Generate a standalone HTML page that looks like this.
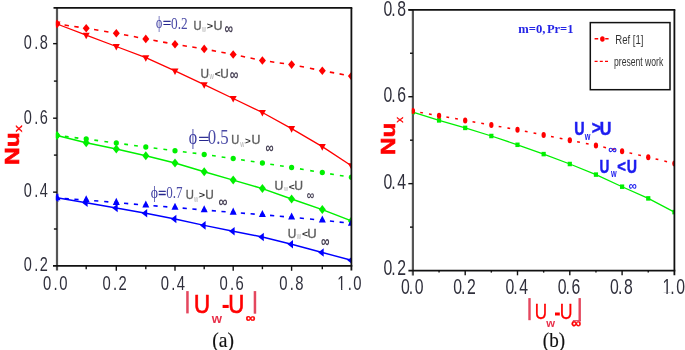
<!DOCTYPE html>
<html><head><meta charset="utf-8"><title>Nu_x vs |Uw-U∞|</title>
<style>
html,body{margin:0;padding:0;background:#fff;}
body{width:685px;height:350px;overflow:hidden;}
svg{display:block;}
text{font-kerning:none;}
</style></head>
<body>
<svg width="685" height="350" viewBox="0 0 685 350">
<rect width="685" height="350" fill="#fff"/>
<defs>
<clipPath id="ca"><rect x="55.9" y="7.9" width="295.5" height="257.90000000000003"/></clipPath>
<clipPath id="cb"><rect x="411.79999999999995" y="9.8" width="262.6" height="260.8"/></clipPath>
</defs>
<line x1="57.0" y1="7.9" x2="57.0" y2="270.6" stroke="#555" stroke-width="2.2"/>
<line x1="412.9" y1="9.8" x2="412.9" y2="275.40000000000003" stroke="#555" stroke-width="2.2"/>
<g clip-path="url(#ca)">
<line x1="57.00" y1="23.90" x2="86.20" y2="28.30" stroke="#ff0000" stroke-width="1.6" stroke-dasharray="4.40 5.44" stroke-dashoffset="2.20"/>
<line x1="86.20" y1="28.30" x2="116.30" y2="33.20" stroke="#ff0000" stroke-width="1.6" stroke-dasharray="4.40 5.77" stroke-dashoffset="2.20"/>
<line x1="116.30" y1="33.20" x2="145.80" y2="38.90" stroke="#ff0000" stroke-width="1.6" stroke-dasharray="4.40 5.62" stroke-dashoffset="2.20"/>
<line x1="145.80" y1="38.90" x2="175.00" y2="44.30" stroke="#ff0000" stroke-width="1.6" stroke-dasharray="4.40 5.50" stroke-dashoffset="2.20"/>
<line x1="175.00" y1="44.30" x2="204.20" y2="48.90" stroke="#ff0000" stroke-width="1.6" stroke-dasharray="4.40 5.45" stroke-dashoffset="2.20"/>
<line x1="204.20" y1="48.90" x2="233.20" y2="54.50" stroke="#ff0000" stroke-width="1.6" stroke-dasharray="4.40 5.45" stroke-dashoffset="2.20"/>
<line x1="233.20" y1="54.50" x2="262.40" y2="60.50" stroke="#ff0000" stroke-width="1.6" stroke-dasharray="4.40 5.54" stroke-dashoffset="2.20"/>
<line x1="262.40" y1="60.50" x2="291.60" y2="64.60" stroke="#ff0000" stroke-width="1.6" stroke-dasharray="4.40 5.43" stroke-dashoffset="2.20"/>
<line x1="291.60" y1="64.60" x2="322.30" y2="70.70" stroke="#ff0000" stroke-width="1.6" stroke-dasharray="4.40 6.03" stroke-dashoffset="2.20"/>
<line x1="322.30" y1="70.70" x2="351.40" y2="76.10" stroke="#ff0000" stroke-width="1.6" stroke-dasharray="4.40 5.47" stroke-dashoffset="2.20"/>
<polyline points="57.00,24.00 86.20,35.20 116.30,46.50 145.80,57.70 175.00,70.90 204.20,84.70 233.20,98.50 262.40,112.50 291.60,128.60 322.30,146.60 351.40,165.70" fill="none" stroke="#ff0000" stroke-width="1.3" stroke-linejoin="round"/>
<line x1="57.00" y1="135.40" x2="86.20" y2="139.10" stroke="#00f000" stroke-width="1.6" stroke-dasharray="3.80 6.01" stroke-dashoffset="1.90"/>
<line x1="86.20" y1="139.10" x2="116.30" y2="143.00" stroke="#00f000" stroke-width="1.6" stroke-dasharray="3.80 6.32" stroke-dashoffset="1.90"/>
<line x1="116.30" y1="143.00" x2="145.80" y2="147.10" stroke="#00f000" stroke-width="1.6" stroke-dasharray="3.80 6.13" stroke-dashoffset="1.90"/>
<line x1="145.80" y1="147.10" x2="175.00" y2="150.70" stroke="#00f000" stroke-width="1.6" stroke-dasharray="3.80 6.01" stroke-dashoffset="1.90"/>
<line x1="175.00" y1="150.70" x2="204.20" y2="154.40" stroke="#00f000" stroke-width="1.6" stroke-dasharray="3.80 6.01" stroke-dashoffset="1.90"/>
<line x1="204.20" y1="154.40" x2="233.20" y2="158.60" stroke="#00f000" stroke-width="1.6" stroke-dasharray="3.80 5.97" stroke-dashoffset="1.90"/>
<line x1="233.20" y1="158.60" x2="262.40" y2="163.00" stroke="#00f000" stroke-width="1.6" stroke-dasharray="3.80 6.04" stroke-dashoffset="1.90"/>
<line x1="262.40" y1="163.00" x2="291.60" y2="167.50" stroke="#00f000" stroke-width="1.6" stroke-dasharray="3.80 6.05" stroke-dashoffset="1.90"/>
<line x1="291.60" y1="167.50" x2="322.30" y2="172.60" stroke="#00f000" stroke-width="1.6" stroke-dasharray="3.80 6.57" stroke-dashoffset="1.90"/>
<line x1="322.30" y1="172.60" x2="351.40" y2="177.30" stroke="#00f000" stroke-width="1.6" stroke-dasharray="3.80 6.03" stroke-dashoffset="1.90"/>
<polyline points="57.00,135.60 86.20,142.70 116.30,149.00 145.80,155.80 175.00,163.00 204.20,171.70 233.20,180.10 262.40,188.60 291.60,199.00 322.30,209.60 351.40,220.90" fill="none" stroke="#00f000" stroke-width="1.5" stroke-linejoin="round"/>
<line x1="57.00" y1="198.00" x2="86.20" y2="200.00" stroke="#0000ff" stroke-width="1.6" stroke-dasharray="4.20 5.56" stroke-dashoffset="2.10"/>
<line x1="86.20" y1="200.00" x2="116.30" y2="202.60" stroke="#0000ff" stroke-width="1.6" stroke-dasharray="4.20 5.87" stroke-dashoffset="2.10"/>
<line x1="116.30" y1="202.60" x2="145.80" y2="205.20" stroke="#0000ff" stroke-width="1.6" stroke-dasharray="4.20 5.67" stroke-dashoffset="2.10"/>
<line x1="145.80" y1="205.20" x2="175.00" y2="207.50" stroke="#0000ff" stroke-width="1.6" stroke-dasharray="4.20 5.56" stroke-dashoffset="2.10"/>
<line x1="175.00" y1="207.50" x2="204.20" y2="210.00" stroke="#0000ff" stroke-width="1.6" stroke-dasharray="4.20 5.57" stroke-dashoffset="2.10"/>
<line x1="204.20" y1="210.00" x2="233.20" y2="212.40" stroke="#0000ff" stroke-width="1.6" stroke-dasharray="4.20 5.50" stroke-dashoffset="2.10"/>
<line x1="233.20" y1="212.40" x2="262.40" y2="214.70" stroke="#0000ff" stroke-width="1.6" stroke-dasharray="4.20 5.56" stroke-dashoffset="2.10"/>
<line x1="262.40" y1="214.70" x2="291.60" y2="217.30" stroke="#0000ff" stroke-width="1.6" stroke-dasharray="4.20 5.57" stroke-dashoffset="2.10"/>
<line x1="291.60" y1="217.30" x2="322.30" y2="220.20" stroke="#0000ff" stroke-width="1.6" stroke-dasharray="4.20 6.08" stroke-dashoffset="2.10"/>
<line x1="322.30" y1="220.20" x2="351.40" y2="223.40" stroke="#0000ff" stroke-width="1.6" stroke-dasharray="4.20 5.56" stroke-dashoffset="2.10"/>
<polyline points="57.00,197.80 86.20,202.80 116.30,208.00 145.80,213.20 175.00,219.00 204.20,225.40 233.20,231.20 262.40,237.00 291.60,244.20 322.30,252.50 351.40,260.30" fill="none" stroke="#0000ff" stroke-width="1.4" stroke-linejoin="round"/>
<path d="M57.00,19.60L60.50,23.90L57.00,28.20L53.50,23.90Z" fill="#ff0000"/>
<path d="M86.20,24.00L89.70,28.30L86.20,32.60L82.70,28.30Z" fill="#ff0000"/>
<path d="M116.30,28.90L119.80,33.20L116.30,37.50L112.80,33.20Z" fill="#ff0000"/>
<path d="M145.80,34.60L149.30,38.90L145.80,43.20L142.30,38.90Z" fill="#ff0000"/>
<path d="M175.00,40.00L178.50,44.30L175.00,48.60L171.50,44.30Z" fill="#ff0000"/>
<path d="M204.20,44.60L207.70,48.90L204.20,53.20L200.70,48.90Z" fill="#ff0000"/>
<path d="M233.20,50.20L236.70,54.50L233.20,58.80L229.70,54.50Z" fill="#ff0000"/>
<path d="M262.40,56.20L265.90,60.50L262.40,64.80L258.90,60.50Z" fill="#ff0000"/>
<path d="M291.60,60.30L295.10,64.60L291.60,68.90L288.10,64.60Z" fill="#ff0000"/>
<path d="M322.30,66.40L325.80,70.70L322.30,75.00L318.80,70.70Z" fill="#ff0000"/>
<path d="M351.40,71.80L354.90,76.10L351.40,80.40L347.90,76.10Z" fill="#ff0000"/>
<path d="M53.50,21.50L60.50,21.50L57.00,28.10Z" fill="#ff0000"/>
<path d="M82.70,32.70L89.70,32.70L86.20,39.30Z" fill="#ff0000"/>
<path d="M112.80,44.00L119.80,44.00L116.30,50.60Z" fill="#ff0000"/>
<path d="M142.30,55.20L149.30,55.20L145.80,61.80Z" fill="#ff0000"/>
<path d="M171.50,68.40L178.50,68.40L175.00,75.00Z" fill="#ff0000"/>
<path d="M200.70,82.20L207.70,82.20L204.20,88.80Z" fill="#ff0000"/>
<path d="M229.70,96.00L236.70,96.00L233.20,102.60Z" fill="#ff0000"/>
<path d="M258.90,110.00L265.90,110.00L262.40,116.60Z" fill="#ff0000"/>
<path d="M288.10,126.10L295.10,126.10L291.60,132.70Z" fill="#ff0000"/>
<path d="M318.80,144.10L325.80,144.10L322.30,150.70Z" fill="#ff0000"/>
<path d="M347.90,163.20L354.90,163.20L351.40,169.80Z" fill="#ff0000"/>
<ellipse cx="57.00" cy="135.40" rx="2.60" ry="2.75" fill="#00f000"/>
<ellipse cx="86.20" cy="139.10" rx="2.60" ry="2.75" fill="#00f000"/>
<ellipse cx="116.30" cy="143.00" rx="2.60" ry="2.75" fill="#00f000"/>
<ellipse cx="145.80" cy="147.10" rx="2.60" ry="2.75" fill="#00f000"/>
<ellipse cx="175.00" cy="150.70" rx="2.60" ry="2.75" fill="#00f000"/>
<ellipse cx="204.20" cy="154.40" rx="2.60" ry="2.75" fill="#00f000"/>
<ellipse cx="233.20" cy="158.60" rx="2.60" ry="2.75" fill="#00f000"/>
<ellipse cx="262.40" cy="163.00" rx="2.60" ry="2.75" fill="#00f000"/>
<ellipse cx="291.60" cy="167.50" rx="2.60" ry="2.75" fill="#00f000"/>
<ellipse cx="322.30" cy="172.60" rx="2.60" ry="2.75" fill="#00f000"/>
<ellipse cx="351.40" cy="177.30" rx="2.60" ry="2.75" fill="#00f000"/>
<path d="M57.00,131.10L60.50,135.60L57.00,140.10L53.50,135.60Z" fill="#00f000"/>
<path d="M86.20,138.20L89.70,142.70L86.20,147.20L82.70,142.70Z" fill="#00f000"/>
<path d="M116.30,144.50L119.80,149.00L116.30,153.50L112.80,149.00Z" fill="#00f000"/>
<path d="M145.80,151.30L149.30,155.80L145.80,160.30L142.30,155.80Z" fill="#00f000"/>
<path d="M175.00,158.50L178.50,163.00L175.00,167.50L171.50,163.00Z" fill="#00f000"/>
<path d="M204.20,167.20L207.70,171.70L204.20,176.20L200.70,171.70Z" fill="#00f000"/>
<path d="M233.20,175.60L236.70,180.10L233.20,184.60L229.70,180.10Z" fill="#00f000"/>
<path d="M262.40,184.10L265.90,188.60L262.40,193.10L258.90,188.60Z" fill="#00f000"/>
<path d="M291.60,194.50L295.10,199.00L291.60,203.50L288.10,199.00Z" fill="#00f000"/>
<path d="M322.30,205.10L325.80,209.60L322.30,214.10L318.80,209.60Z" fill="#00f000"/>
<path d="M351.40,216.40L354.90,220.90L351.40,225.40L347.90,220.90Z" fill="#00f000"/>
<path d="M53.50,200.30L60.50,200.30L57.00,193.20Z" fill="#0000ff"/>
<path d="M82.70,202.30L89.70,202.30L86.20,195.20Z" fill="#0000ff"/>
<path d="M112.80,204.90L119.80,204.90L116.30,197.80Z" fill="#0000ff"/>
<path d="M142.30,207.50L149.30,207.50L145.80,200.40Z" fill="#0000ff"/>
<path d="M171.50,209.80L178.50,209.80L175.00,202.70Z" fill="#0000ff"/>
<path d="M200.70,212.30L207.70,212.30L204.20,205.20Z" fill="#0000ff"/>
<path d="M229.70,214.70L236.70,214.70L233.20,207.60Z" fill="#0000ff"/>
<path d="M258.90,217.00L265.90,217.00L262.40,209.90Z" fill="#0000ff"/>
<path d="M288.10,219.60L295.10,219.60L291.60,212.50Z" fill="#0000ff"/>
<path d="M318.80,222.50L325.80,222.50L322.30,215.40Z" fill="#0000ff"/>
<path d="M347.90,225.70L354.90,225.70L351.40,218.60Z" fill="#0000ff"/>
<path d="M58.40,193.50L58.40,202.10L52.90,197.80Z" fill="#0000ff"/>
<path d="M87.60,198.50L87.60,207.10L82.10,202.80Z" fill="#0000ff"/>
<path d="M117.70,203.70L117.70,212.30L112.20,208.00Z" fill="#0000ff"/>
<path d="M147.20,208.90L147.20,217.50L141.70,213.20Z" fill="#0000ff"/>
<path d="M176.40,214.70L176.40,223.30L170.90,219.00Z" fill="#0000ff"/>
<path d="M205.60,221.10L205.60,229.70L200.10,225.40Z" fill="#0000ff"/>
<path d="M234.60,226.90L234.60,235.50L229.10,231.20Z" fill="#0000ff"/>
<path d="M263.80,232.70L263.80,241.30L258.30,237.00Z" fill="#0000ff"/>
<path d="M293.00,239.90L293.00,248.50L287.50,244.20Z" fill="#0000ff"/>
<path d="M323.70,248.20L323.70,256.80L318.20,252.50Z" fill="#0000ff"/>
<path d="M352.80,256.00L352.80,264.60L347.30,260.30Z" fill="#0000ff"/>
</g>
<g clip-path="url(#cb)">
<polyline points="412.90,112.10 439.05,120.40 465.20,127.90 491.35,136.00 517.50,144.80 543.65,154.10 569.80,164.00 595.95,174.60 622.10,186.70 648.25,198.40 674.40,212.10" fill="none" stroke="#00f000" stroke-width="1.25" stroke-linejoin="round"/>
<line x1="412.90" y1="111.10" x2="439.05" y2="115.70" stroke="#ff0000" stroke-width="1.5" stroke-dasharray="2.80 6.05" stroke-dashoffset="1.40"/>
<line x1="439.05" y1="115.70" x2="465.20" y2="120.40" stroke="#ff0000" stroke-width="1.5" stroke-dasharray="2.80 6.06" stroke-dashoffset="1.40"/>
<line x1="465.20" y1="120.40" x2="491.35" y2="125.10" stroke="#ff0000" stroke-width="1.5" stroke-dasharray="2.80 6.06" stroke-dashoffset="1.40"/>
<line x1="491.35" y1="125.10" x2="517.50" y2="129.70" stroke="#ff0000" stroke-width="1.5" stroke-dasharray="2.80 6.05" stroke-dashoffset="1.40"/>
<line x1="517.50" y1="129.70" x2="543.65" y2="135.00" stroke="#ff0000" stroke-width="1.5" stroke-dasharray="2.80 6.09" stroke-dashoffset="1.40"/>
<line x1="543.65" y1="135.00" x2="569.80" y2="140.30" stroke="#ff0000" stroke-width="1.5" stroke-dasharray="2.80 6.09" stroke-dashoffset="1.40"/>
<line x1="569.80" y1="140.30" x2="595.95" y2="145.50" stroke="#ff0000" stroke-width="1.5" stroke-dasharray="2.80 6.09" stroke-dashoffset="1.40"/>
<line x1="595.95" y1="145.50" x2="622.10" y2="151.20" stroke="#ff0000" stroke-width="1.5" stroke-dasharray="2.80 6.12" stroke-dashoffset="1.40"/>
<line x1="622.10" y1="151.20" x2="648.25" y2="157.20" stroke="#ff0000" stroke-width="1.5" stroke-dasharray="2.80 6.14" stroke-dashoffset="1.40"/>
<line x1="648.25" y1="157.20" x2="674.40" y2="163.40" stroke="#ff0000" stroke-width="1.5" stroke-dasharray="2.80 6.16" stroke-dashoffset="1.40"/>
<rect x="410.80" y="109.85" width="4.20" height="4.50" fill="#00f000"/>
<rect x="436.95" y="118.15" width="4.20" height="4.50" fill="#00f000"/>
<rect x="463.10" y="125.65" width="4.20" height="4.50" fill="#00f000"/>
<rect x="489.25" y="133.75" width="4.20" height="4.50" fill="#00f000"/>
<rect x="515.40" y="142.55" width="4.20" height="4.50" fill="#00f000"/>
<rect x="541.55" y="151.85" width="4.20" height="4.50" fill="#00f000"/>
<rect x="567.70" y="161.75" width="4.20" height="4.50" fill="#00f000"/>
<rect x="593.85" y="172.35" width="4.20" height="4.50" fill="#00f000"/>
<rect x="620.00" y="184.45" width="4.20" height="4.50" fill="#00f000"/>
<rect x="646.15" y="196.15" width="4.20" height="4.50" fill="#00f000"/>
<rect x="672.30" y="209.85" width="4.20" height="4.50" fill="#00f000"/>
<ellipse cx="412.90" cy="111.10" rx="2.15" ry="3.00" fill="#ff0000"/>
<ellipse cx="439.05" cy="115.70" rx="2.15" ry="3.00" fill="#ff0000"/>
<ellipse cx="465.20" cy="120.40" rx="2.15" ry="3.00" fill="#ff0000"/>
<ellipse cx="491.35" cy="125.10" rx="2.15" ry="3.00" fill="#ff0000"/>
<ellipse cx="517.50" cy="129.70" rx="2.15" ry="3.00" fill="#ff0000"/>
<ellipse cx="543.65" cy="135.00" rx="2.15" ry="3.00" fill="#ff0000"/>
<ellipse cx="569.80" cy="140.30" rx="2.15" ry="3.00" fill="#ff0000"/>
<ellipse cx="595.95" cy="145.50" rx="2.15" ry="3.00" fill="#ff0000"/>
<ellipse cx="622.10" cy="151.20" rx="2.15" ry="3.00" fill="#ff0000"/>
<ellipse cx="648.25" cy="157.20" rx="2.15" ry="3.00" fill="#ff0000"/>
<ellipse cx="674.40" cy="163.40" rx="2.15" ry="3.00" fill="#ff0000"/>
</g>
<line x1="53.5" y1="7.9" x2="352.29999999999995" y2="7.9" stroke="#111" stroke-width="1.8"/>
<line x1="351.4" y1="7.9" x2="351.4" y2="270.5" stroke="#111" stroke-width="1.8"/>
<line x1="53.0" y1="265.8" x2="352.29999999999995" y2="265.8" stroke="#111" stroke-width="1.8"/>
<line x1="86.20" y1="265.8" x2="86.20" y2="269.2" stroke="#111" stroke-width="1.4"/>
<line x1="116.30" y1="265.8" x2="116.30" y2="270.8" stroke="#111" stroke-width="1.4"/>
<line x1="145.80" y1="265.8" x2="145.80" y2="269.2" stroke="#111" stroke-width="1.4"/>
<line x1="175.00" y1="265.8" x2="175.00" y2="270.8" stroke="#111" stroke-width="1.4"/>
<line x1="204.20" y1="265.8" x2="204.20" y2="269.2" stroke="#111" stroke-width="1.4"/>
<line x1="233.20" y1="265.8" x2="233.20" y2="270.8" stroke="#111" stroke-width="1.4"/>
<line x1="262.40" y1="265.8" x2="262.40" y2="269.2" stroke="#111" stroke-width="1.4"/>
<line x1="291.60" y1="265.8" x2="291.60" y2="270.8" stroke="#111" stroke-width="1.4"/>
<line x1="322.30" y1="265.8" x2="322.30" y2="269.2" stroke="#111" stroke-width="1.4"/>
<line x1="53.9" y1="229.00" x2="57.0" y2="229.00" stroke="#111" stroke-width="1.4"/>
<line x1="53.1" y1="192.15" x2="57.0" y2="192.15" stroke="#111" stroke-width="1.4"/>
<line x1="53.9" y1="155.10" x2="57.0" y2="155.10" stroke="#111" stroke-width="1.4"/>
<line x1="53.1" y1="118.20" x2="57.0" y2="118.20" stroke="#111" stroke-width="1.4"/>
<line x1="53.9" y1="81.10" x2="57.0" y2="81.10" stroke="#111" stroke-width="1.4"/>
<line x1="53.1" y1="43.65" x2="57.0" y2="43.65" stroke="#111" stroke-width="1.4"/>
<line x1="408.4" y1="9.8" x2="675.3" y2="9.8" stroke="#111" stroke-width="1.8"/>
<line x1="674.4" y1="9.8" x2="674.4" y2="275.3" stroke="#111" stroke-width="1.8"/>
<line x1="408.4" y1="270.6" x2="675.3" y2="270.6" stroke="#111" stroke-width="1.8"/>
<line x1="439.05" y1="270.6" x2="439.05" y2="272.6" stroke="#111" stroke-width="1.4"/>
<line x1="465.20" y1="270.6" x2="465.20" y2="275.3" stroke="#111" stroke-width="1.4"/>
<line x1="491.35" y1="270.6" x2="491.35" y2="272.6" stroke="#111" stroke-width="1.4"/>
<line x1="517.50" y1="270.6" x2="517.50" y2="275.3" stroke="#111" stroke-width="1.4"/>
<line x1="543.65" y1="270.6" x2="543.65" y2="272.6" stroke="#111" stroke-width="1.4"/>
<line x1="569.80" y1="270.6" x2="569.80" y2="275.3" stroke="#111" stroke-width="1.4"/>
<line x1="595.95" y1="270.6" x2="595.95" y2="272.6" stroke="#111" stroke-width="1.4"/>
<line x1="622.10" y1="270.6" x2="622.10" y2="275.3" stroke="#111" stroke-width="1.4"/>
<line x1="648.25" y1="270.6" x2="648.25" y2="272.6" stroke="#111" stroke-width="1.4"/>
<line x1="410.0" y1="227.13" x2="412.9" y2="227.13" stroke="#111" stroke-width="1.4"/>
<line x1="408.29999999999995" y1="183.66" x2="412.9" y2="183.66" stroke="#111" stroke-width="1.4"/>
<line x1="410.0" y1="140.19" x2="412.9" y2="140.19" stroke="#111" stroke-width="1.4"/>
<line x1="408.29999999999995" y1="96.72" x2="412.9" y2="96.72" stroke="#111" stroke-width="1.4"/>
<line x1="410.0" y1="53.25" x2="412.9" y2="53.25" stroke="#111" stroke-width="1.4"/>
<line x1="408.29999999999995" y1="9.78" x2="412.9" y2="9.78" stroke="#111" stroke-width="1.4"/>
<text transform="translate(0,289.60) scale(0.71,1)" x="60.75 75.46 83.28" y="0" font-family='"Liberation Sans", Arial, sans-serif' font-size="20.90" fill="#30303c">0.0</text>
<text transform="translate(0,289.60) scale(0.71,1)" x="144.27 158.99 166.80" y="0" font-family='"Liberation Sans", Arial, sans-serif' font-size="20.90" fill="#30303c">0.2</text>
<text transform="translate(0,289.60) scale(0.71,1)" x="226.52 241.24 249.06" y="0" font-family='"Liberation Sans", Arial, sans-serif' font-size="20.90" fill="#30303c">0.4</text>
<text transform="translate(0,289.60) scale(0.71,1)" x="309.20 323.92 331.73" y="0" font-family='"Liberation Sans", Arial, sans-serif' font-size="20.90" fill="#30303c">0.6</text>
<text transform="translate(0,289.60) scale(0.71,1)" x="393.42 408.14 415.96" y="0" font-family='"Liberation Sans", Arial, sans-serif' font-size="20.90" fill="#30303c">0.8</text>
<defs><clipPath id="c1_1"><rect x="470.07" y="-16.33" width="23.27" height="14.77"/><rect x="480.33" y="-2.04" width="1.85" height="4.08"/></clipPath></defs><g><text transform="translate(0,289.60) scale(0.71,1)" x="475.07" y="0" font-family='"Liberation Sans", Arial, sans-serif' font-size="20.90" fill="#30303c" clip-path="url(#c1_1)">1</text><text transform="translate(0,289.60) scale(0.71,1)" x="489.79 497.61" y="0" font-family='"Liberation Sans", Arial, sans-serif' font-size="20.90" fill="#30303c">.0</text></g>
<text transform="translate(0,270.55) scale(0.71,1)" x="33.38 48.10 55.92" y="0" font-family='"Liberation Sans", Arial, sans-serif' font-size="20.48" fill="#30303c">0.2</text>
<text transform="translate(0,197.25) scale(0.71,1)" x="33.38 48.10 55.92" y="0" font-family='"Liberation Sans", Arial, sans-serif' font-size="20.48" fill="#30303c">0.4</text>
<text transform="translate(0,123.65) scale(0.71,1)" x="33.38 48.10 55.92" y="0" font-family='"Liberation Sans", Arial, sans-serif' font-size="20.48" fill="#30303c">0.6</text>
<text transform="translate(0,48.65) scale(0.71,1)" x="33.38 48.10 55.92" y="0" font-family='"Liberation Sans", Arial, sans-serif' font-size="20.48" fill="#30303c">0.8</text>
<text transform="translate(0,293.88) scale(0.7,1)" x="572.71 583.86 592.43" y="0" font-family='"Liberation Sans", Arial, sans-serif' font-size="22.60" fill="#30303c">0.0</text>
<text transform="translate(0,293.88) scale(0.7,1)" x="647.43 658.57 667.14" y="0" font-family='"Liberation Sans", Arial, sans-serif' font-size="22.60" fill="#30303c">0.2</text>
<text transform="translate(0,293.88) scale(0.7,1)" x="722.14 733.29 741.86" y="0" font-family='"Liberation Sans", Arial, sans-serif' font-size="22.60" fill="#30303c">0.4</text>
<text transform="translate(0,293.88) scale(0.7,1)" x="796.86 808.00 816.57" y="0" font-family='"Liberation Sans", Arial, sans-serif' font-size="22.60" fill="#30303c">0.6</text>
<text transform="translate(0,293.88) scale(0.7,1)" x="871.57 882.71 891.29" y="0" font-family='"Liberation Sans", Arial, sans-serif' font-size="22.60" fill="#30303c">0.8</text>
<defs><clipPath id="c1_2"><rect x="941.29" y="-17.66" width="24.34" height="15.97"/><rect x="951.97" y="-2.21" width="2.00" height="4.41"/></clipPath></defs><g><text transform="translate(0,293.88) scale(0.7,1)" x="946.29" y="0" font-family='"Liberation Sans", Arial, sans-serif' font-size="22.60" fill="#30303c" clip-path="url(#c1_2)">1</text><text transform="translate(0,293.88) scale(0.7,1)" x="957.43 966.00" y="0" font-family='"Liberation Sans", Arial, sans-serif' font-size="22.60" fill="#30303c">.0</text></g>
<text transform="translate(0,275.38) scale(0.7,1)" x="547.71 558.86 567.43" y="0" font-family='"Liberation Sans", Arial, sans-serif' font-size="22.60" fill="#30303c">0.2</text>
<text transform="translate(0,188.68) scale(0.7,1)" x="547.71 558.86 567.43" y="0" font-family='"Liberation Sans", Arial, sans-serif' font-size="22.60" fill="#30303c">0.4</text>
<text transform="translate(0,101.58) scale(0.7,1)" x="547.71 558.86 567.43" y="0" font-family='"Liberation Sans", Arial, sans-serif' font-size="22.60" fill="#30303c">0.6</text>
<text transform="translate(0,15.58) scale(0.7,1)" x="547.71 558.86 567.43" y="0" font-family='"Liberation Sans", Arial, sans-serif' font-size="22.60" fill="#30303c">0.8</text>
<text transform="translate(18.60,165.04) rotate(-90) scale(1.1623,1)" font-family='"Liberation Sans", Arial, sans-serif' font-weight="700" font-size="21.08" fill="#ff0000" stroke="#ff0000" stroke-width="0.6">Nu</text>
<text transform="translate(22.30,132.26) rotate(-90) scale(1.2738,1)" font-family='"Liberation Sans", Arial, sans-serif' font-weight="400" font-size="11.17" fill="#ff0000" stroke="#ff0000" stroke-width="0.3">x</text>
<text transform="translate(394.90,155.02) rotate(-90) scale(1.2265,1)" font-family='"Liberation Sans", Arial, sans-serif' font-weight="700" font-size="19.77" fill="#ff0000" stroke="#ff0000" stroke-width="0.6">Nu</text>
<text transform="translate(403.10,122.73) rotate(-90) scale(1.0315,1)" font-family='"Liberation Sans", Arial, sans-serif' font-weight="400" font-size="11.36" fill="#ff0000" stroke="#ff0000" stroke-width="0.3">x</text>
<rect x="186.2" y="291.1" width="2.5" height="22.3" fill="#e4475e"/>
<text transform="translate(194.09,312.65) scale(0.8698,1)" font-family='"Liberation Sans", Arial, sans-serif' font-weight="400" font-size="25.51" fill="#ff0000" stroke="#ff0000" stroke-width="0.7">U</text>
<text transform="translate(211.64,322.60) scale(0.9792,1)" font-family='"Liberation Sans", Arial, sans-serif' font-weight="700" font-size="13.44" fill="#e8304a">w</text>
<rect x="222.6" y="304.9" width="6.1" height="3.1" fill="#ff0000"/>
<text transform="translate(228.19,312.65) scale(0.8698,1)" font-family='"Liberation Sans", Arial, sans-serif' font-weight="400" font-size="25.51" fill="#ff0000" stroke="#ff0000" stroke-width="0.7">U</text>
<text transform="translate(245.41,322.00) scale(1.1233,1)" font-family='"Liberation Sans", Arial, sans-serif' font-weight="700" font-size="12.32" fill="#ff0000" stroke="#ff0000" stroke-width="0.4">∞</text>
<rect x="253.7" y="291.1" width="2.5" height="22.6" fill="#e4475e"/>
<rect x="528.3" y="298.1" width="2.4" height="22.1" fill="#e4475e"/>
<text transform="translate(534.78,318.98) scale(0.7496,1)" font-family='"Liberation Sans", Arial, sans-serif' font-weight="400" font-size="22.79" fill="#ff0000" stroke="#ff0000" stroke-width="0.25">U</text>
<text transform="translate(546.13,326.70) scale(0.9580,1)" font-family='"Liberation Sans", Arial, sans-serif' font-weight="700" font-size="11.74" fill="#e8304a">w</text>
<rect x="555.0" y="312.5" width="4.8" height="3.0" fill="#ff0000"/>
<text transform="translate(559.63,318.98) scale(0.7805,1)" font-family='"Liberation Sans", Arial, sans-serif' font-weight="400" font-size="22.79" fill="#ff0000" stroke="#ff0000" stroke-width="0.25">U</text>
<text transform="translate(571.31,328.10) scale(0.9830,1)" font-family='"Liberation Sans", Arial, sans-serif' font-weight="700" font-size="14.24" fill="#ff0000" stroke="#ff0000" stroke-width="0.4">∞</text>
<rect x="578.5" y="298.1" width="2.4" height="23.2" fill="#e4475e"/>
<rect x="572.9" y="320.1" width="8.0" height="1.2" fill="#e4475e"/>
<text transform="translate(212.24,346.91) scale(0.9489,1)" font-family='"Liberation Serif", "Times New Roman", serif' font-weight="400" font-size="20.62" fill="#111" stroke="#111" stroke-width="0.15">(a)</text>
<text transform="translate(542.86,346.58) scale(0.9416,1)" font-family='"Liberation Serif", "Times New Roman", serif' font-weight="400" font-size="20.29" fill="#111" stroke="#111" stroke-width="0.15">(b)</text>
<text transform="translate(156.10,28.10) scale(0.7373,1)" font-family='"Liberation Serif", "Times New Roman", serif' font-weight="400" font-size="15.99" fill="#3a3aa0">ϕ</text>
<text transform="translate(162.89,28.36) scale(0.9583,1)" font-family='"Liberation Serif", "Times New Roman", serif' font-weight="400" font-size="14.80" fill="#26268e" stroke="#26268e" stroke-width="0.5">=</text>
<text transform="translate(171.09,28.54) scale(0.7881,1)" font-family='"Liberation Serif", "Times New Roman", serif' font-weight="400" font-size="16.89" fill="#4a4aa6">0.2</text>
<text transform="translate(193.54,29.98) scale(0.8898,1)" font-family='"Liberation Sans", Arial, sans-serif' font-weight="400" font-size="12.47" fill="#5c5c5c" stroke="#5c5c5c" stroke-width="0.35">U</text>
<text transform="translate(202.11,31.80) scale(0.6193,1)" font-family='"Liberation Sans", Arial, sans-serif' font-weight="400" font-size="8.90" fill="#b0b0b0">w</text>
<text transform="translate(206.65,29.38) scale(1.1382,1)" font-family='"Liberation Sans", Arial, sans-serif' font-weight="700" font-size="9.46" fill="#333333">&gt;</text>
<text transform="translate(213.54,29.98) scale(1.0027,1)" font-family='"Liberation Sans", Arial, sans-serif' font-weight="400" font-size="12.47" fill="#5c5c5c" stroke="#5c5c5c" stroke-width="0.35">U</text>
<text transform="translate(224.48,33.56) scale(0.7169,1)" font-family='"Liberation Sans", Arial, sans-serif' font-weight="700" font-size="16.70" fill="#4a4458">∞</text>
<text transform="translate(200.49,77.68) scale(0.9355,1)" font-family='"Liberation Sans", Arial, sans-serif' font-weight="400" font-size="12.61" fill="#5c5c5c" stroke="#5c5c5c" stroke-width="0.35">U</text>
<text transform="translate(209.41,78.80) scale(0.6812,1)" font-family='"Liberation Sans", Arial, sans-serif' font-weight="400" font-size="8.90" fill="#b0b0b0">w</text>
<text transform="translate(214.67,76.93) scale(1.1665,1)" font-family='"Liberation Sans", Arial, sans-serif' font-weight="700" font-size="8.72" fill="#333333">&lt;</text>
<text transform="translate(220.29,77.68) scale(0.9355,1)" font-family='"Liberation Sans", Arial, sans-serif' font-weight="400" font-size="12.61" fill="#5c5c5c" stroke="#5c5c5c" stroke-width="0.35">U</text>
<text transform="translate(229.77,79.56) scale(0.7262,1)" font-family='"Liberation Sans", Arial, sans-serif' font-weight="700" font-size="16.70" fill="#4a4458">∞</text>
<text transform="translate(188.86,143.70) scale(0.7897,1)" font-family='"Liberation Serif", "Times New Roman", serif' font-weight="400" font-size="20.18" fill="#3a3aa0">ϕ</text>
<text transform="translate(198.46,143.96) scale(1.2778,1)" font-family='"Liberation Serif", "Times New Roman", serif' font-weight="400" font-size="14.80" fill="#26268e" stroke="#26268e" stroke-width="0.5">=</text>
<text transform="translate(207.76,143.80) scale(0.8154,1)" font-family='"Liberation Serif", "Times New Roman", serif' font-weight="400" font-size="20.60" fill="#4a4aa6">0.5</text>
<text transform="translate(231.34,143.88) scale(0.8898,1)" font-family='"Liberation Sans", Arial, sans-serif' font-weight="400" font-size="12.47" fill="#5c5c5c" stroke="#5c5c5c" stroke-width="0.35">U</text>
<text transform="translate(240.21,146.80) scale(0.6237,1)" font-family='"Liberation Sans", Arial, sans-serif' font-weight="400" font-size="9.27" fill="#b0b0b0">w</text>
<text transform="translate(245.09,143.55) scale(1.0750,1)" font-family='"Liberation Sans", Arial, sans-serif' font-weight="700" font-size="9.09" fill="#333333">&gt;</text>
<text transform="translate(251.55,143.88) scale(0.9886,1)" font-family='"Liberation Sans", Arial, sans-serif' font-weight="400" font-size="12.47" fill="#5c5c5c" stroke="#5c5c5c" stroke-width="0.35">U</text>
<text transform="translate(265.40,152.70) scale(0.7027,1)" font-family='"Liberation Sans", Arial, sans-serif' font-weight="700" font-size="16.15" fill="#4a4458">∞</text>
<text transform="translate(274.46,190.18) scale(0.9974,1)" font-family='"Liberation Sans", Arial, sans-serif' font-weight="400" font-size="12.18" fill="#5c5c5c" stroke="#5c5c5c" stroke-width="0.35">U</text>
<text transform="translate(284.01,191.40) scale(0.7851,1)" font-family='"Liberation Sans", Arial, sans-serif' font-weight="400" font-size="7.19" fill="#b0b0b0">w</text>
<text transform="translate(288.86,189.51) scale(1.2422,1)" font-family='"Liberation Sans", Arial, sans-serif' font-weight="700" font-size="8.35" fill="#333333">&lt;</text>
<text transform="translate(294.36,190.18) scale(0.9974,1)" font-family='"Liberation Sans", Arial, sans-serif' font-weight="400" font-size="12.18" fill="#5c5c5c" stroke="#5c5c5c" stroke-width="0.35">U</text>
<text transform="translate(306.63,200.10) scale(0.7427,1)" font-family='"Liberation Sans", Arial, sans-serif' font-weight="700" font-size="14.24" fill="#4a4458">∞</text>
<text transform="translate(150.64,198.42) scale(0.8661,1)" font-family='"Liberation Serif", "Times New Roman", serif' font-weight="400" font-size="15.88" fill="#3a3aa0">ϕ</text>
<text transform="translate(158.20,199.01) scale(0.8730,1)" font-family='"Liberation Serif", "Times New Roman", serif' font-weight="400" font-size="16.00" fill="#26268e" stroke="#26268e" stroke-width="0.5">=</text>
<text transform="translate(166.30,198.24) scale(0.7985,1)" font-family='"Liberation Serif", "Times New Roman", serif' font-weight="400" font-size="16.30" fill="#4a4aa6">0.7</text>
<text transform="translate(185.83,198.68) scale(0.8936,1)" font-family='"Liberation Sans", Arial, sans-serif' font-weight="400" font-size="12.61" fill="#5c5c5c" stroke="#5c5c5c" stroke-width="0.35">U</text>
<text transform="translate(194.11,201.50) scale(0.7111,1)" font-family='"Liberation Sans", Arial, sans-serif' font-weight="400" font-size="8.33" fill="#b0b0b0">w</text>
<text transform="translate(198.65,198.33) scale(1.2351,1)" font-family='"Liberation Sans", Arial, sans-serif' font-weight="700" font-size="8.72" fill="#333333">&gt;</text>
<text transform="translate(205.29,198.68) scale(0.9355,1)" font-family='"Liberation Sans", Arial, sans-serif' font-weight="400" font-size="12.61" fill="#5c5c5c" stroke="#5c5c5c" stroke-width="0.35">U</text>
<text transform="translate(218.46,206.53) scale(0.7667,1)" font-family='"Liberation Sans", Arial, sans-serif' font-weight="700" font-size="16.43" fill="#4a4458">∞</text>
<text transform="translate(287.79,237.68) scale(0.9355,1)" font-family='"Liberation Sans", Arial, sans-serif' font-weight="400" font-size="12.61" fill="#5c5c5c" stroke="#5c5c5c" stroke-width="0.35">U</text>
<text transform="translate(296.71,239.10) scale(0.7276,1)" font-family='"Liberation Sans", Arial, sans-serif' font-weight="400" font-size="8.33" fill="#b0b0b0">w</text>
<text transform="translate(302.06,236.93) scale(1.2122,1)" font-family='"Liberation Sans", Arial, sans-serif' font-weight="700" font-size="8.72" fill="#333333">&lt;</text>
<text transform="translate(307.19,237.68) scale(1.0332,1)" font-family='"Liberation Sans", Arial, sans-serif' font-weight="400" font-size="12.61" fill="#5c5c5c" stroke="#5c5c5c" stroke-width="0.35">U</text>
<text transform="translate(320.88,246.92) scale(0.6942,1)" font-family='"Liberation Sans", Arial, sans-serif' font-weight="700" font-size="17.25" fill="#4a4458">∞</text>
<text transform="translate(574.24,134.82) scale(0.7739,1)" font-family='"Liberation Sans", Arial, sans-serif' font-weight="700" font-size="18.49" fill="#1c1cf0" stroke="#1c1cf0" stroke-width="0.5">U</text>
<text transform="translate(584.82,140.10) scale(0.6521,1)" font-family='"Liberation Sans", Arial, sans-serif' font-weight="700" font-size="11.17" fill="#1c1cf0">w</text>
<text transform="translate(591.63,134.36) scale(0.9149,1)" font-family='"Liberation Sans", Arial, sans-serif' font-weight="700" font-size="17.44" fill="#1c1cf0" stroke="#1c1cf0" stroke-width="0.5">&gt;</text>
<text transform="translate(599.83,134.82) scale(0.8729,1)" font-family='"Liberation Sans", Arial, sans-serif' font-weight="700" font-size="18.49" fill="#1c1cf0" stroke="#1c1cf0" stroke-width="0.5">U</text>
<text transform="translate(608.37,153.57) scale(0.8686,1)" font-family='"Liberation Sans", Arial, sans-serif' font-weight="700" font-size="13.96" fill="#1c1cf0">∞</text>
<text transform="translate(599.58,172.72) scale(0.7379,1)" font-family='"Liberation Sans", Arial, sans-serif' font-weight="700" font-size="18.49" fill="#1c1cf0" stroke="#1c1cf0" stroke-width="0.5">U</text>
<text transform="translate(611.02,177.10) scale(0.6750,1)" font-family='"Liberation Sans", Arial, sans-serif' font-weight="700" font-size="10.79" fill="#1c1cf0">w</text>
<text transform="translate(617.28,172.36) scale(0.9359,1)" font-family='"Liberation Sans", Arial, sans-serif' font-weight="700" font-size="15.77" fill="#1c1cf0" stroke="#1c1cf0" stroke-width="0.5">&lt;</text>
<text transform="translate(626.75,172.82) scale(0.7590,1)" font-family='"Liberation Sans", Arial, sans-serif' font-weight="700" font-size="18.63" fill="#1c1cf0" stroke="#1c1cf0" stroke-width="0.5">U</text>
<text transform="translate(628.60,190.36) scale(0.8942,1)" font-family='"Liberation Sans", Arial, sans-serif' font-weight="700" font-size="12.87" fill="#1c1cf0">∞</text>
<text transform="translate(518.26,32.90) scale(0.9778,1)" font-family='"Liberation Serif", "Times New Roman", serif' font-weight="700" font-size="12.93" fill="#2424e6">m=0,</text>
<text transform="translate(546.89,32.90) scale(0.9705,1)" font-family='"Liberation Serif", "Times New Roman", serif' font-weight="700" font-size="12.93" fill="#2424e6">Pr=1</text>
<rect x="590.3" y="22.6" width="79.7" height="67.1" fill="none" stroke="#111" stroke-width="1.5"/>
<line x1="594.6" y1="38.8" x2="608.6" y2="38.8" stroke="#ff0000" stroke-width="1.5" stroke-dasharray="3.6 7 3.6"/>
<ellipse cx="602.4" cy="39.0" rx="2.3" ry="2.8" fill="#ff0000"/>
<text transform="translate(615.32,44.40) scale(0.7831,1)" font-family='"Liberation Sans", Arial, sans-serif' font-weight="400" font-size="12.21" fill="#333">Ref [1]</text>
<line x1="594.6" y1="61.4" x2="608.0" y2="61.4" stroke="#ff0000" stroke-width="1.4" stroke-dasharray="3 2.2"/>
<text transform="translate(614.04,65.70) scale(0.7228,1)" font-family='"Liberation Sans", Arial, sans-serif' font-weight="400" font-size="11.92" fill="#333">present work</text>
</svg>
</body></html>
